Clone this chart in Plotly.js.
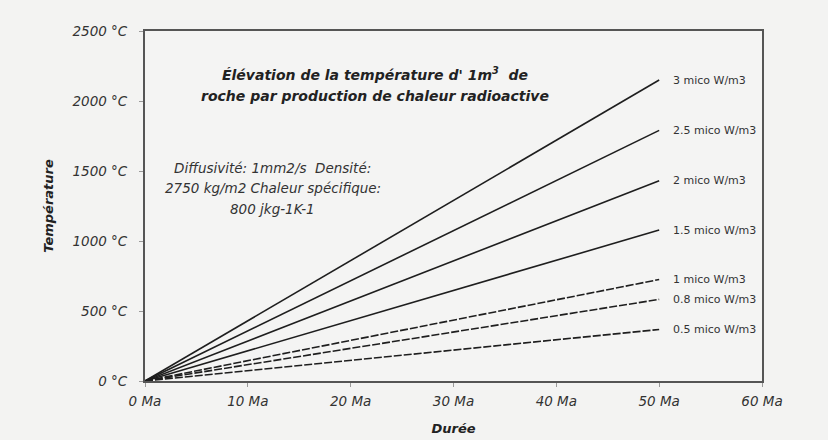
<!DOCTYPE html>
<html>
<head>
<meta charset="utf-8">
<script src="https://cdn.plot.ly/plotly-3.0.1.min.js"></script>
<style>html,body{margin:0;padding:0;background:#f3f3f2;}</style>
</head>
<body>
<div id="chart" style="width:828px;height:440px;"></div>
<script>
const durations = [0, 50];
const seriesNames = ["3 mico W/m3", "2.5 mico W/m3", "2 mico W/m3", "1.5 mico W/m3", "1 mico W/m3", "0.8 mico W/m3", "0.5 mico W/m3"];
const endTemps = [2150, 1790, 1430, 1078, 725, 583, 368];
const dashes = ["solid", "solid", "solid", "solid", "8px,2px", "8px,2px", "8px,2px"];
const yTickVals = [0, 500, 1000, 1500, 2000, 2500];
const yTickText = ["0 °C", "500 °C", "1000 °C", "1500 °C", "2000 °C", "2500 °C"];
const xTickVals = [0, 10, 20, 30, 40, 50, 60];
const xTickText = ["0 Ma", "10 Ma", "20 Ma", "30 Ma", "40 Ma", "50 Ma", "60 Ma"];
const titleLines = ["Élévation de la température d' 1m<sup>3</sup>  de", "roche par production de chaleur radioactive"];
const noteLines = ["Diffusivité: 1mm2/s  Densité:", "2750 kg/m2 Chaleur spécifique:", "800 jkg-1K-1"];

const traces = seriesNames.map((n, i) => ({
  x: durations,
  y: [0, endTemps[i]],
  mode: "lines",
  name: n,
  line: {color: "#1e1e1e", width: 1.6, dash: dashes[i]},
  hoverinfo: "skip"
}));

const FAM = "DejaVu Sans, Verdana, sans-serif";

const annotations = seriesNames.map((n, i) => ({
  x: durations[1], y: endTemps[i], xref: "x", yref: "y",
  text: n, showarrow: false, xanchor: "left", yanchor: "middle", xshift: 12,
  font: {family: FAM, size: 11, color: "#333"}
}));
const titleY = [74, 96];
titleLines.forEach((t, i) => annotations.push({
  xref: "paper", yref: "paper", x: 0.373, y: (381 - titleY[i]) / 350, xanchor: "center", yanchor: "middle",
  text: t, showarrow: false,
  font: {family: FAM, size: 14, weight: "bold", style: "italic", color: "#222"}
}));
const noteY = [168, 188.5, 209];
noteLines.forEach((t, i) => annotations.push({
  xref: "paper", yref: "paper", x: 0.207, y: (381 - noteY[i]) / 350, xanchor: "center", yanchor: "middle",
  text: t, showarrow: false,
  font: {family: FAM, size: 13.5, style: "italic", color: "#333"}
}));

const tickFont = {family: FAM, size: 13.5, style: "italic", color: "#333"};
const axTitleFont = {family: FAM, size: 13, weight: "bold", style: "italic", color: "#222"};

const layout = {
  width: 828, height: 440,
  margin: {l: 145, r: 66, t: 31, b: 59},
  paper_bgcolor: "#f3f3f2",
  plot_bgcolor: "#f4f4f3",
  showlegend: false,
  xaxis: {
    range: [0, 60], tickvals: xTickVals, ticktext: xTickText,
    showgrid: false, zeroline: false,
    showline: true, mirror: true, linecolor: "#555", linewidth: 2,
    ticks: "outside", ticklen: 4, tickcolor: "#999",
    ticklabelstandoff: 3,
    tickfont: tickFont,
    title: {text: "Durée", standoff: 16, font: axTitleFont}
  },
  yaxis: {
    range: [0, 2500], tickvals: yTickVals, ticktext: yTickText,
    showgrid: false, zeroline: false,
    showline: true, mirror: true, linecolor: "#555", linewidth: 2,
    ticks: "outside", ticklen: 4, tickcolor: "#999",
    ticklabelstandoff: 9,
    tickfont: tickFont,
    title: {text: "Température", standoff: 16, font: axTitleFont}
  },
  annotations: annotations
};

Plotly.newPlot("chart", traces, layout, {displayModeBar: false, staticPlot: true});
</script>
</body>
</html>
